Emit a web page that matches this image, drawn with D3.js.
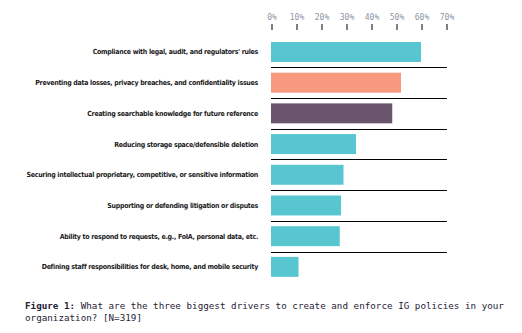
<!DOCTYPE html>
<html>
<head>
<meta charset="utf-8">
<script src="https://cdn.jsdelivr.net/npm/d3@7"></script>
<style>
  html, body { margin: 0; padding: 0; background: #fff; }
  svg { display: block; }
</style>
</head>
<body>
<div id="chart"></div>
<script>
// Survey responses: top drivers for IG policies (share of respondents, %)
const categories = [
  "Compliance with legal, audit, and regulators' rules",
  "Preventing data losses, privacy breaches, and confidentiality issues",
  "Creating searchable knowledge for future reference",
  "Reducing storage space/defensible deletion",
  "Securing intellectual proprietary, competitive, or sensitive information",
  "Supporting or defending litigation or disputes",
  "Ability to respond to requests, e.g., FoIA, personal data, etc.",
  "Defining staff responsibilities for desk, home, and mobile security"
];
const values = [60, 52, 48.5, 34, 29, 28, 27.5, 11];
const barColors = ["#58c6d0", "#f8987e", "#6a546e", "#58c6d0", "#58c6d0", "#58c6d0", "#58c6d0", "#58c6d0"];
const tickValues = [0, 10, 20, 30, 40, 50, 60, 70];
const captionBold = "Figure 1:";
const captionLines = [
  " What are the three biggest drivers to create and enforce IG policies in your",
  "organization? [N=319]"
];

const width = 522, height = 333;
const svg = d3.select("#chart").append("svg")
  .attr("width", width).attr("height", height);

const x = d3.scaleLinear().domain([0, 70]).range([271, 446]);
const y = d3.scaleBand().domain(categories).range([31.25, 287.6])
  .paddingInner(0.35).paddingOuter(0.35);

// Top axis: percentage ticks
const axis = d3.axisTop(x).tickValues(tickValues)
  .tickFormat(d => d + "%").tickSize(6).tickPadding(4);
const gAxis = svg.append("g").attr("transform", "translate(0.5,30)").call(axis);
gAxis.select(".domain").remove();
gAxis.selectAll(".tick line").attr("stroke", "#000").attr("stroke-width", 1);
gAxis.selectAll(".tick text")
  .attr("fill", "#8c95a6")
  .style("font-family", "'DejaVu Sans Mono', monospace")
  .style("font-size", "8px");

// Bars
svg.append("g").selectAll("rect")
  .data(values)
  .join("rect")
  .attr("x", x(0))
  .attr("y", (d, i) => y(categories[i]))
  .attr("width", d => x(d) - x(0))
  .attr("height", y.bandwidth())
  .attr("fill", (d, i) => barColors[i]);

// Separators between rows
const gap = y.step() - y.bandwidth();
svg.append("g").selectAll("line")
  .data(categories.slice(0, -1))
  .join("line")
  .attr("x1", x(0))
  .attr("x2", x(70) + 1)
  .attr("y1", d => Math.round(y(d) + y.bandwidth() + gap / 2) + 0.5)
  .attr("y2", d => Math.round(y(d) + y.bandwidth() + gap / 2) + 0.5)
  .attr("stroke", "#000")
  .attr("stroke-width", 1.1);

// Category labels
svg.append("g").selectAll("text")
  .data(categories)
  .join("text")
  .attr("x", 258)
  .attr("y", d => y(d) + y.bandwidth() / 2)
  .attr("dy", "0.35em")
  .attr("text-anchor", "end")
  .attr("fill", "#1a1a1a")
  .style("font-family", "'DejaVu Sans', sans-serif")
  .style("font-stretch", "condensed")
  .style("font-weight", "bold")
  .style("font-size", "7px")
  .style("letter-spacing", "-0.29px")
  .text(d => d);

// Caption
const cap = svg.append("g")
  .style("font-family", "'DejaVu Sans Mono', monospace")
  .style("font-size", "9.25px")
  .attr("fill", "#1f2235");
const t1 = cap.append("text").attr("x", 25).attr("y", 308.5).attr("xml:space", "preserve");
t1.append("tspan").style("font-weight", "bold").text(captionBold);
t1.append("tspan").text(captionLines[0]);
cap.append("text").attr("x", 25).attr("y", 320.5).text(captionLines[1]);
</script>
</body>
</html>
